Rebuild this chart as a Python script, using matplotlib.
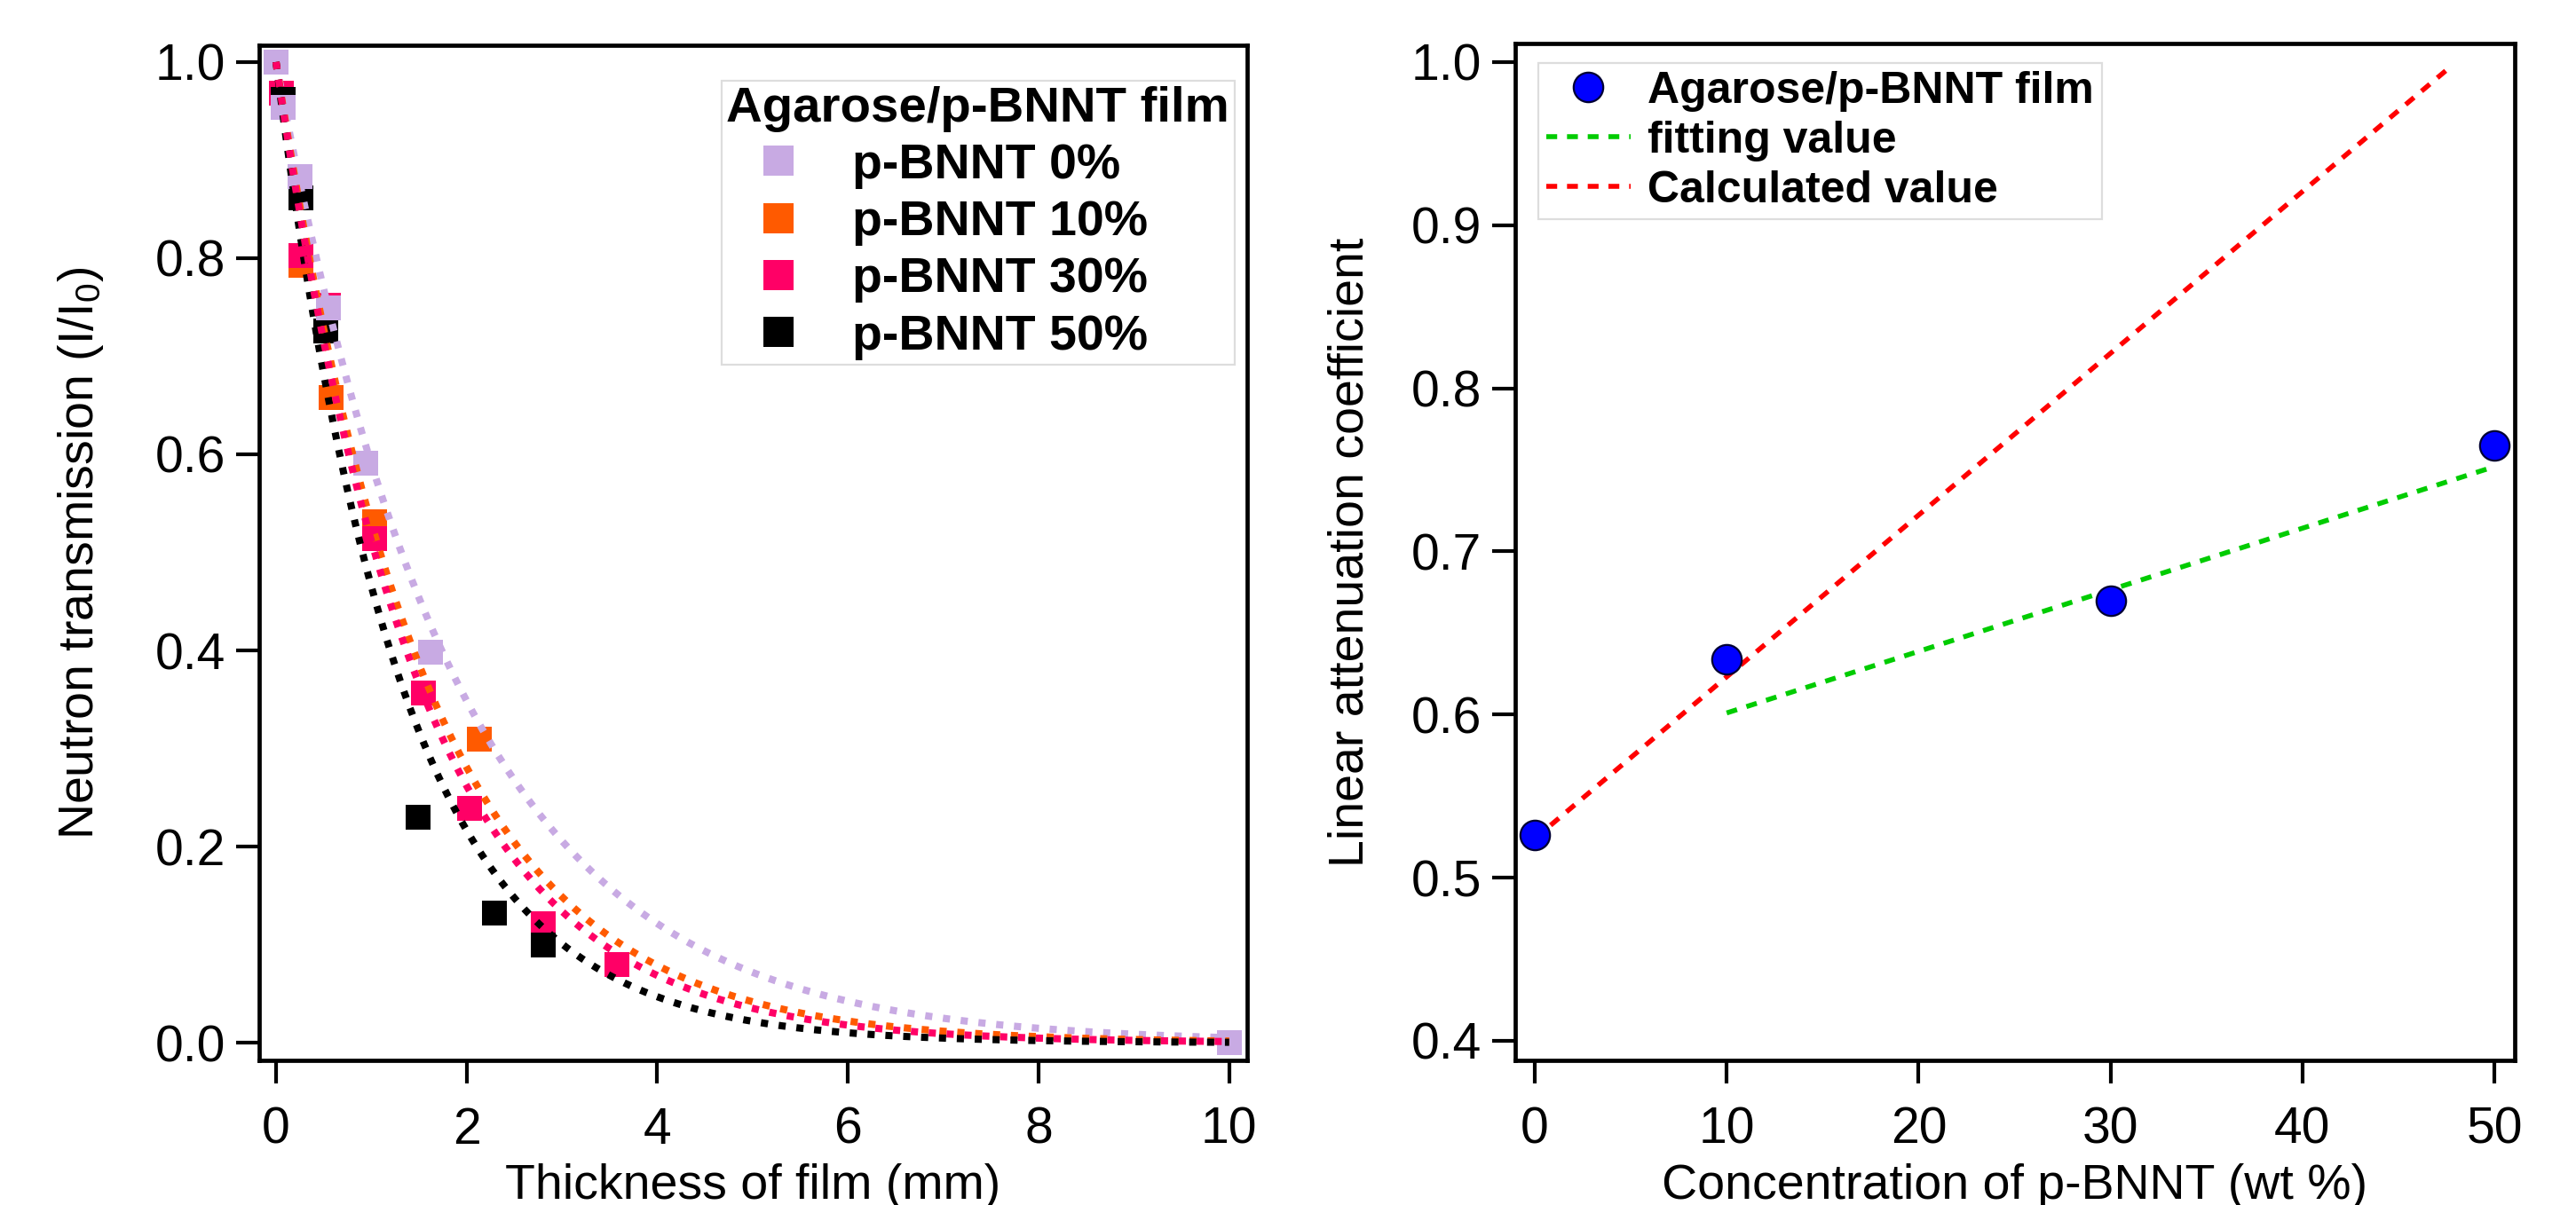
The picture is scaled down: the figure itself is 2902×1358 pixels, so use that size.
import numpy as np
import matplotlib
matplotlib.use('Agg')
import matplotlib.pyplot as plt

plt.rcParams['font.family'] = ['Liberation Sans', 'DejaVu Sans']
plt.rcParams['mathtext.fontset'] = 'custom'
plt.rcParams['mathtext.rm'] = 'Liberation Sans'
plt.rcParams['mathtext.default'] = 'rm'

# left panel: neutron transmission vs film thickness
labels = ['p-BNNT 0%', 'p-BNNT 10%', 'p-BNNT 30%', 'p-BNNT 50%']
colors = ['#C8AAE3', '#FF5A00', '#FF0066', '#000000']
thick_0 = [0.0, 0.075, 0.25, 0.55, 0.94, 1.62, 10.0]
trans_0 = [1.0, 0.954, 0.883, 0.749, 0.591, 0.398, 0.0]
thick_10 = [0.26, 0.58, 1.03, 2.13]
trans_10 = [0.793, 0.658, 0.531, 0.31]
thick_30 = [0.06, 0.26, 0.55, 1.03, 1.55, 2.03, 2.80, 3.58]
trans_30 = [0.968, 0.803, 0.752, 0.514, 0.357, 0.239, 0.121, 0.080]
thick_50 = [0.075, 0.26, 0.52, 1.49, 2.29, 2.80]
trans_50 = [0.962, 0.861, 0.726, 0.23, 0.132, 0.100]
mu_fit = [0.527, 0.635, 0.670, 0.765]   # fitted attenuation (1/mm)

# right panel: attenuation coefficient vs concentration
conc = [0, 10, 30, 50]
mu_meas = [0.526, 0.634, 0.670, 0.765]
fit_x = [10, 50]
fit_y = [0.601, 0.752]
calc_x = [0, 47.8]
calc_y = [0.524, 0.998]

fig = plt.figure(figsize=(14.51, 6.79), dpi=200)
ax1 = fig.add_axes([0.1006, 0.12, 0.3836, 0.8424])
ax2 = fig.add_axes([0.5882, 0.12, 0.3880, 0.8439])

xs = [thick_0, thick_10, thick_30, thick_50]
ys = [trans_0, trans_10, trans_30, trans_50]
mz = [2.4, 2.1, 2.2, 2.3]
handles = []
for x, y, c, lab, z in zip(xs, ys, colors, labels, mz):
    h, = ax1.plot(x, y, 's', color=c, ms=10, mew=0, label=lab, zorder=z)
    handles.append(h)

t = np.linspace(0, 10, 400)
for mu, c, z in zip(mu_fit, colors, [3.0, 3.1, 3.3, 3.2]):
    ax1.plot(t, np.exp(-mu * t), color=c, lw=2.9, ls=(0, (1, 1.5)),
             dash_capstyle='butt', zorder=z)

ax1.set_xlim(-0.177, 10.19)
ax1.set_ylim(-0.018, 1.017)
ax1.set_xticks(np.arange(0, 11, 2))
ax1.set_yticks(np.arange(0, 1.01, 0.2))
ax1.yaxis.set_major_formatter(plt.FormatStrFormatter('%.1f'))
ax1.set_xlabel('Thickness of film (mm)', fontsize=20)
ax1.set_ylabel('Neutron transmission (I/I$_0$)', fontsize=20)
ax1.xaxis.set_label_coords(0.5, -0.101)
ax1.yaxis.set_label_coords(-0.155, 0.5)

leg1 = ax1.legend(handles, labels, title='Agarose/p-BNNT film', loc='upper left',
                  bbox_to_anchor=(0.468, 0.965), prop=dict(weight='bold', size=20),
                  title_fontproperties=dict(weight='bold', size=20.3),
                  fancybox=False, edgecolor='#dddddd', framealpha=1,
                  borderpad=0.1, handlelength=2.1, handletextpad=0.45,
                  labelspacing=0.22, markerscale=1.25, alignment='left',
                  borderaxespad=0)
leg1.get_frame().set_linewidth(0.8)

ax2.plot(conc, mu_meas, 'o', color='#0000FF', mec='#000033', mew=0.8, ms=12,
         label='Agarose/p-BNNT film', zorder=4)
ax2.plot(fit_x, fit_y, color='#00CC00', lw=2, ls=(0, (2.2, 2.0)),
         label='fitting value', zorder=3)
ax2.plot(calc_x, calc_y, color='#FF0000', lw=2, ls=(0, (2.2, 2.0)),
         label='Calculated value', zorder=3)
ax2.set_xlim(-1.02, 51.06)
ax2.set_ylim(0.388, 1.0114)
ax2.set_xticks(np.arange(0, 51, 10))
ax2.set_yticks(np.arange(0.4, 1.01, 0.1))
ax2.yaxis.set_major_formatter(plt.FormatStrFormatter('%.1f'))
ax2.set_xlabel('Concentration of p-BNNT (wt %)', fontsize=20)
ax2.set_ylabel('Linear attenuation coefficient', fontsize=20)
ax2.xaxis.set_label_coords(0.5, -0.101)
ax2.yaxis.set_label_coords(-0.142, 0.5)

leg2 = ax2.legend(loc='upper left', bbox_to_anchor=(0.023, 0.981),
                  prop=dict(weight='bold', size=18), fancybox=False,
                  edgecolor='#dddddd', framealpha=1, borderpad=0.18,
                  handlelength=1.9, handletextpad=0.38, labelspacing=0.2,
                  borderaxespad=0)
leg2.get_frame().set_linewidth(0.8)

for ax in (ax1, ax2):
    for s in ax.spines.values():
        s.set_linewidth(1.7)
    ax.tick_params(direction='out', length=9.2, width=1.5, labelsize=20.5,
                   top=False, right=False)
    ax.tick_params(axis='x', pad=9.4)
    ax.tick_params(axis='y', pad=4.3)

fig.savefig('out.png', dpi=200)
